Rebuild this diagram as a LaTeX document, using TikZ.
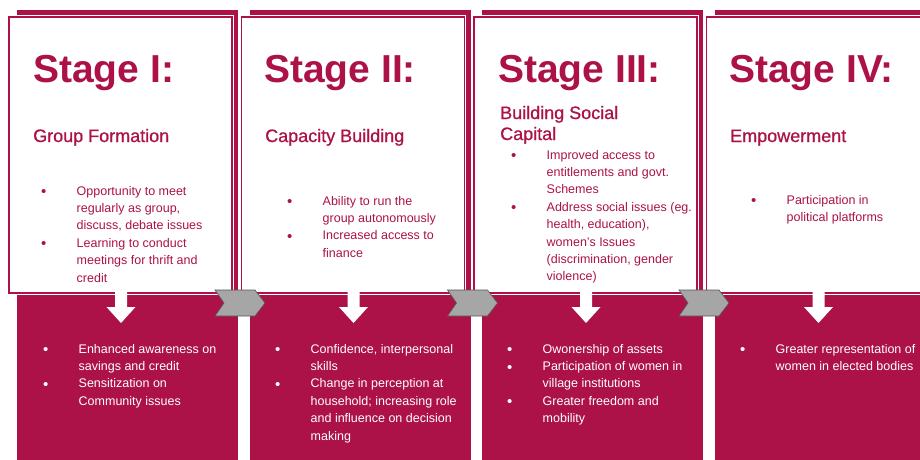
\documentclass[tikz,border=0pt]{standalone}
\usepackage{fontspec}
\setmainfont{Liberation Sans}
\newfontfamily\subfont{Liberation Sans}[FakeBold=0.8]
\usetikzlibrary{positioning}

\definecolor{crimson}{RGB}{172,18,72}
\definecolor{chevgray}{RGB}{166,166,166}
\definecolor{chevedge}{RGB}{85,85,85}

% one bullet point with hanging indent
\newcommand\bitem[1]{\par\noindent\hangindent=35.5pt\hangafter=1%
  \makebox[35.5pt][l]{\raisebox{-1.6pt}{\fontsize{15}{15}\selectfont\textbullet}}#1}
\newcommand\blist[1]{\parbox[t]{190pt}{\raggedright #1}}

\tikzset{
  back/.style={fill=crimson},
  card/.style={fill=white, draw=white, double=crimson, double distance=1.6pt, line width=0.9pt},
  stage/.style={anchor=base west, inner sep=0pt, text=crimson, font=\bfseries\fontsize{39}{39}\selectfont},
  phase/.style={anchor=base west, inner sep=0pt, text=crimson, font=\subfont\fontsize{18}{21}\selectfont},
  toplist/.style={anchor=base west, inner sep=0pt, text=crimson, font=\fontsize{12.5}{17.4}\selectfont},
  lowlist/.style={toplist, text=white},
  downarrow/.style={fill=white},
  chevron/.style={fill=chevgray, draw=chevedge, line width=0.6pt}
}

\begin{document}
\begin{tikzpicture}[x=1pt,y=-1pt]
\useasboundingbox (0,0) rectangle (920,459);
\clip (0,0) rectangle (920,459);

% crimson backing of each stage
\fill[back] (17,10) rectangle (238,470);
\fill[back] (249.5,10) rectangle (470.5,470);
\fill[back] (482,10) rectangle (703,470);
\fill[back] (714.5,10) rectangle (935.5,470);

% white cards
\draw[card] (9,17) rectangle (232,293);
\draw[card] (241.5,17) rectangle (464.5,293);
\draw[card] (474,17) rectangle (697,293);
\draw[card] (706.5,17) rectangle (929.5,293);

% stage I
\node[stage] (s1) at (33,82) {Stage I:};
\node[phase] (p1) at (33,142) {Group Formation};
\node[toplist] (t1) at (41,195) {\blist{%
  \bitem{Opportunity to meet\newline regularly as group,\newline discuss, debate issues}
  \bitem{Learning to conduct\newline meetings for thrift and\newline credit}}};
\node[lowlist] (b1) at (43,353) {\blist{%
  \bitem{Enhanced awareness on\newline savings and credit}
  \bitem{Sensitization on\newline Community issues}}};

% stage II
\node[stage] (s2) at (264,82) {Stage II:};
\node[phase] (p2) at (265,142) {Capacity Building};
\node[toplist] (t2) at (287,205) {\blist{%
  \bitem{Ability to run the\newline group autonomously}
  \bitem{Increased access to\newline finance}}};
\node[lowlist] (b2) at (275,353) {\blist{%
  \bitem{Confidence, interpersonal\newline skills}
  \bitem{Change in perception at\newline household; increasing role\newline and influence on decision\newline making}}};

% stage III
\node[stage] (s3) at (498,82) {Stage III:};
\node[phase] (p3) at (500,119) {\parbox[t]{160pt}{Building Social\newline Capital}};
\node[toplist] (t3) at (511,159) {\blist{%
  \bitem{Improved access to\newline entitlements and govt.\newline Schemes}
  \bitem{Address social issues (eg.\newline health, education),\newline women's Issues\newline (discrimination, gender\newline violence)}}};
\node[lowlist] (b3) at (507,353) {\blist{%
  \bitem{Owonership of assets}
  \bitem{Participation of women in\newline village institutions}
  \bitem{Greater freedom and\newline mobility}}};

% stage IV
\node[stage] (s4) at (729,82) {Stage IV:};
\node[phase] (p4) at (730,142) {Empowerment};
\node[toplist] (t4) at (751,204) {\blist{%
  \bitem{Participation in\newline political platforms}}};
\node[lowlist] (b4) at (740,353) {\blist{%
  \bitem{Greater representation of\newline women in elected bodies}}};

% down arrows from card to outcomes
\fill[downarrow] (115,286) -- ++(12,0) -- ++(0,21) -- ++(8.5,0) -- ++(-14.5,16) -- ++(-14.5,-16) -- ++(8.5,0) -- cycle;
\fill[downarrow] (347.5,286) -- ++(12,0) -- ++(0,21) -- ++(8.5,0) -- ++(-14.5,16) -- ++(-14.5,-16) -- ++(8.5,0) -- cycle;
\fill[downarrow] (580,286) -- ++(12,0) -- ++(0,21) -- ++(8.5,0) -- ++(-14.5,16) -- ++(-14.5,-16) -- ++(8.5,0) -- cycle;
\fill[downarrow] (812.5,286) -- ++(12,0) -- ++(0,21) -- ++(8.5,0) -- ++(-14.5,16) -- ++(-14.5,-16) -- ++(8.5,0) -- cycle;

% chevrons between stages
\draw[chevron] (215,290) -- ++(40,0) -- ++(10,13) -- ++(-10,13) -- ++(-40,0) -- ++(9,-13) -- cycle;
\draw[chevron] (447.5,290) -- ++(40,0) -- ++(10,13) -- ++(-10,13) -- ++(-40,0) -- ++(9,-13) -- cycle;
\draw[chevron] (679,290) -- ++(40,0) -- ++(10,13) -- ++(-10,13) -- ++(-40,0) -- ++(9,-13) -- cycle;
\end{tikzpicture}
\end{document}
